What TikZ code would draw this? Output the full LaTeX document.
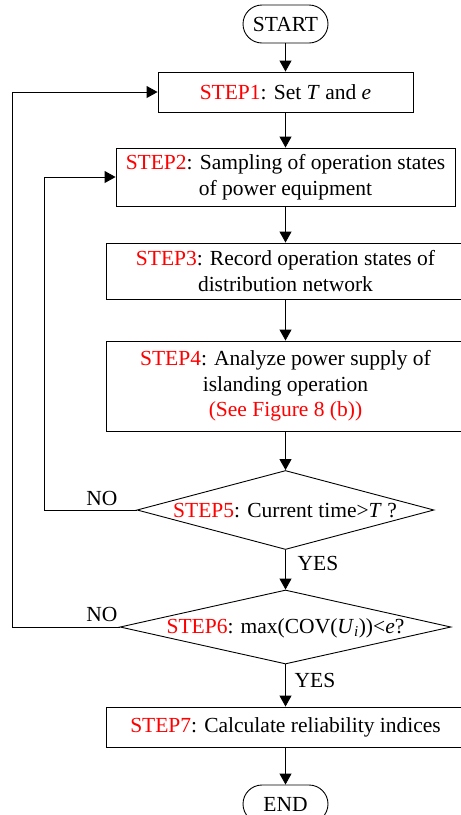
\documentclass[tikz,border=0pt]{standalone}
\usepackage{fontspec}
\setmainfont{Liberation Serif}
\usetikzlibrary{shapes.geometric,arrows.meta}
\begin{document}
\begin{tikzpicture}[x=1pt,y=-1pt,
  base/.style={draw, line width=0.9pt, inner sep=0pt, align=center, font=\fontsize{21.5}{25.5}\selectfont},
  stepbox/.style={base, rectangle},
  term/.style={base, rectangle, rounded corners=19pt, minimum width=85pt, minimum height=38pt},
  dia/.style={draw, line width=0.9pt, diamond, inner sep=0pt},
  txt/.style={inner sep=0pt, align=center, font=\fontsize{21.5}{25.5}\selectfont},
  arr/.style={line width=0.9pt, -{Triangle[length=11pt,width=12pt]}},
  ln/.style={line width=0.9pt}]
\useasboundingbox (0,0) rectangle (461,815);
\newcommand{\rs}[1]{\textcolor{red}{#1}}
\node[term] (start) at (285.5,24) {START};
\node[stepbox, minimum width=255pt, minimum height=40pt] (s1) at (285.5,92) {\rs{STEP1}: Set \textit{T} and \textit{e}};
\node[stepbox, minimum width=339pt, minimum height=58pt] (s2) at (285.5,177) {\rs{STEP2}: Sampling of operation states\\of power equipment};
\node[stepbox, minimum width=358pt, minimum height=56pt] (s3) at (285.5,271) {\rs{STEP3}: Record operation states of\\distribution network};
\node[stepbox, minimum width=358pt, minimum height=90pt] (s4) at (285.5,386) {\rs{STEP4}: Analyze power supply of\\islanding operation\\\rs{(See Figure 8 (b))}};
\node[dia, minimum width=297pt, minimum height=79pt] (s5) at (285.5,510) {};
\node[txt] (t5) at (285,511) {\rs{STEP5}: Current time>\textit{T} ?};
\node[dia, minimum width=331pt, minimum height=74pt] (s6) at (285.5,627) {};
\node[txt] (t6) at (285.5,628) {\rs{STEP6}: max(COV(\textit{U}\textsubscript{\textit{i}}))<\textit{e}?};
\node[stepbox, minimum width=358pt, minimum height=40pt] (s7) at (285.5,727) {\rs{STEP7}: Calculate reliability indices};
\node[term] (end) at (285.5,804) {END};
\coordinate (c5) at (44,510);
\coordinate (c6) at (12,627);
\draw[arr] (start) -- (s1);
\draw[arr] (s1) -- (s2);
\draw[arr] (s2) -- (s3);
\draw[arr] (s3) -- (s4);
\draw[arr] (s4) -- (s5.north);
\draw[arr] (s5.south) -- (s6.north);
\draw[arr] (s6.south) -- (s7);
\draw[arr] (s7) -- (end);
\draw[arr] (s5.west) -- (c5) |- (s2.west);
\draw[arr] (s6.west) -- (c6) |- (s1.west);
\node[txt] (no5) at (102,498) {NO};
\node[txt] (no6) at (102,614) {NO};
\node[txt] (yes5) at (318,563) {YES};
\node[txt] (yes6) at (315,680) {YES};
\end{tikzpicture}
\end{document}
